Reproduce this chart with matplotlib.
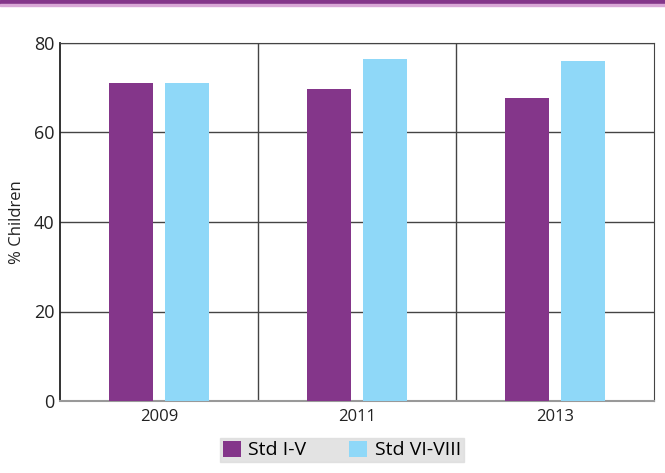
import numpy as np
import matplotlib.pyplot as plt
from matplotlib.patches import Rectangle

years = ["2009", "2011", "2013"]
std_1_5 = [71.0, 69.7, 67.7]
std_6_8 = [71.0, 76.4, 76.0]

purple = "#84368a"
blue = "#8fd8f8"

plt.rcParams["font.family"] = ["Open Sans", "DejaVu Sans"]

fig = plt.figure(figsize=(6.65, 4.73), dpi=100)
ax = fig.add_axes([60 / 665, 72 / 473, 594 / 665, 358 / 473])

# top banner strip
fig.patches.append(Rectangle((0, 1 - 4 / 473), 1, 4 / 473, transform=fig.transFigure,
                             color=purple, zorder=5))
fig.patches.append(Rectangle((0, 1 - 6 / 473), 1, 2 / 473, transform=fig.transFigure,
                             color="#d9a8d6", zorder=5))

x = np.arange(len(years))
w = 0.222
off = 0.141
ax.bar(x - off, std_1_5, w, color=purple, label="Std I-V", zorder=3)
ax.bar(x + off, std_6_8, w, color=blue, label="Std VI-VIII", zorder=3)

ax.set_xlim(-0.5, 2.5)
ax.set_ylim(0, 80)
ax.set_yticks([0, 20, 40, 60, 80])
ax.set_xticks(x)
ax.set_xticklabels(years)
ax.tick_params(length=0, labelsize=12, colors="#222222", pad=6)
ax.tick_params(axis="y", labelsize=13, pad=4)
ax.yaxis.grid(True, color="#444444", lw=1, zorder=1)
for b in [0.5, 1.5]:
    ax.axvline(b, color="#444444", lw=1, zorder=1)
for s in ["top", "right"]:
    ax.spines[s].set_color("#444444")
ax.spines["left"].set_color("#222222")
ax.spines["left"].set_linewidth(1.3)
ax.spines["bottom"].set_color("#999999")
ax.spines["bottom"].set_linewidth(1.5)
ax.set_ylabel("% Children", fontsize=12, color="#222222", labelpad=6)

leg = fig.legend(loc="center", bbox_to_anchor=(342 / 665, 1 - 450 / 473), ncol=2,
                 frameon=True, fontsize=14, handlelength=0.9, handleheight=0.9,
                 handletextpad=0.4, columnspacing=2.2, borderpad=0.15,
                 fancybox=False)
leg.get_frame().set_facecolor("#dcdcdc")
leg.get_frame().set_edgecolor("#dcdcdc")

fig.savefig("out.png", dpi=100)
